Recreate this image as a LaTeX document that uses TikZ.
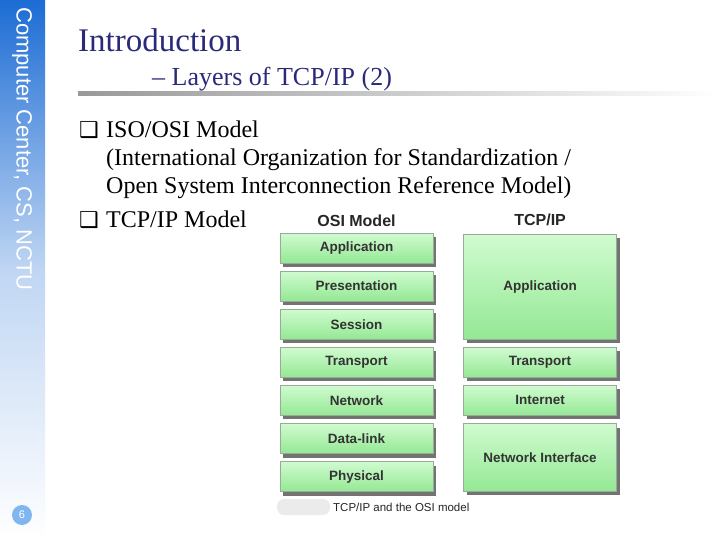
\documentclass[tikz,border=0pt]{standalone}
\usepackage{fontspec}
\setmainfont{Liberation Serif}
\setsansfont{Liberation Sans}
\newfontfamily\dingfont{DejaVu Sans}
\usepackage{tikz}
\usetikzlibrary{positioning,shadows,calc}
\definecolor{sidebarblue}{RGB}{28,108,212}
\definecolor{titlenavy}{RGB}{42,42,122}
\definecolor{layertop}{RGB}{208,251,208}
\definecolor{layerbot}{RGB}{148,232,148}
\definecolor{layerline}{RGB}{150,172,150}
\definecolor{pagedot}{RGB}{128,182,240}
\tikzset{
  layerbox/.style={
    draw=layerline,line width=0.6pt,top color=layertop,bottom color=layerbot,
    minimum width=153pt,minimum height=30pt,inner sep=0pt,
    font=\sffamily\bfseries\fontsize{13.5}{15}\selectfont,text=black!80,
    drop shadow={shadow xshift=3pt,shadow yshift=-4pt,fill=black!55,opacity=1}
  },
  colhead/.style={font=\sffamily\bfseries\fontsize{16}{18}\selectfont,text=black!85},
  itemtext/.style={font=\fontsize{24}{28}\selectfont,align=left,inner sep=0pt},
  itemmark/.style={font=\dingfont\fontsize{22}{22}\selectfont,inner sep=0pt},
  titletext/.style={font=\fontsize{33}{36}\selectfont,text=titlenavy,inner sep=0pt},
  subtitletext/.style={font=\fontsize{26}{28}\selectfont,text=titlenavy,inner sep=0pt}
}

\begin{document}
\begin{tikzpicture}[x=1pt,y=-1pt,node distance=7.5pt and 30pt]
  \useasboundingbox (0,0) rectangle (720,540);
  \fill[white] (0,0) rectangle (720,540);
  % side bar
  \shade[top color=sidebarblue,bottom color=white,middle color=sidebarblue!28] (0,0) rectangle (45,540);
  \node[rotate=-90,anchor=west,text=white,inner sep=0pt,
    font=\sffamily\fontsize{22}{22}\selectfont] (org) at (22,7) {Computer Center, CS, NCTU};
  \node[circle,fill=pagedot,minimum size=20pt,inner sep=0pt,text=white,
    font=\sffamily\fontsize{11}{11}\selectfont] (page) at (22,515) {6};
  % title
  \node[titletext,anchor=base west] (title) at (78,52) {Introduction};
  \node[subtitletext,anchor=base west] (subtitle) at (152,86) {– Layers of TCP/IP (2)};
  \shade[left color=black!40,right color=white] (78,92) rectangle (720,96);
  % bullets
  \node[itemmark,anchor=base west] (mark1) at (79,138) {❑};
  \node[itemtext,anchor=north west] (iso) at (106,121)
    {ISO/OSI Model\\(International Organization for Standardization /\\Open System Interconnection Reference Model)};
  \node[itemmark,anchor=base west] (mark2) at (79,228) {❑};
  \node[itemtext,anchor=base west] (tcpitem) at (106,228) {TCP/IP Model};
  % OSI column
  \node[layerbox] (app) at (356.5,248) {Application};
  \node[layerbox,below=of app] (pres) {Presentation};
  \node[layerbox,below=of pres] (sess) {Session};
  \node[layerbox,below=of sess] (trans) {Transport};
  \node[layerbox,below=of trans] (net) {Network};
  \node[layerbox,below=of net] (dlink) {Data-link};
  \node[layerbox,below=of dlink] (phys) {Physical};
  % TCP/IP column
  \node[layerbox,right=of trans] (ttrans) {Transport};
  \node[layerbox,right=of net] (tinet) {Internet};
  \node[layerbox,minimum height=105pt,above=of ttrans] (tapp) {Application};
  \node[layerbox,minimum height=67.5pt,below=of tinet] (tnif) {Network Interface};
  \node[colhead,above=3pt of app] (osihead) {OSI Model};
  \node[colhead] (tcphead) at (osihead -| tapp) {TCP/IP};
  % caption
  \fill[black!8,rounded corners=7pt] (277,499) rectangle (330,515);
  \node[anchor=west,inner sep=0pt,text=black!85,
    font=\sffamily\fontsize{11.5}{12}\selectfont] (caption) at (333,507) {TCP/IP and the OSI model};
\end{tikzpicture}
\end{document}
